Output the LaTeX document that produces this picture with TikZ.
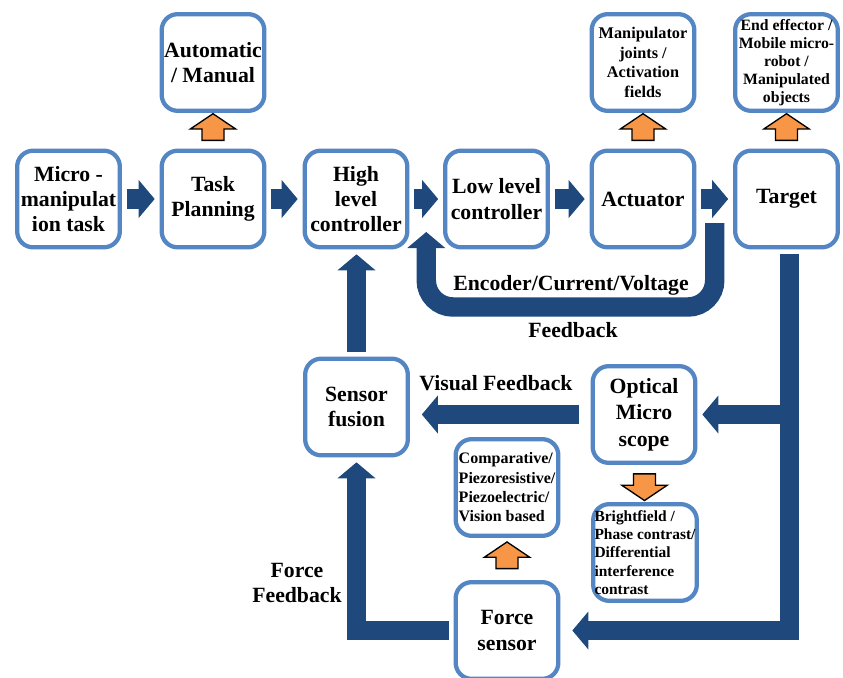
\documentclass[tikz,border=0pt]{standalone}
\usepackage{fontspec}
\setmainfont{Liberation Serif}
\usepackage{tikz}
\usetikzlibrary{arrows.meta,shapes.arrows,calc}
\definecolor{boxblue}{RGB}{84,134,196}
\definecolor{flowblue}{RGB}{31,73,125}
\definecolor{noteorange}{RGB}{247,150,70}
\tikzset{
	box/.style={draw=boxblue,fill=white,line width=3.2pt,rounded corners=12pt,minimum width=77pt,minimum height=72.5pt,inner sep=1pt,outer sep=5.25pt,align=center,font=\fontsize{16.3}{19}\selectfont\bfseries},
	smallbox/.style={box,font=\fontsize{12.2}{14.8}\selectfont\bfseries},
	flow/.style={draw=flowblue,line width=14.6pt,-{Triangle[width=28.5pt,length=12pt,line width=0pt]}},
	sidearrow/.style={single arrow,draw=black,fill=noteorange,line width=1pt,inner xsep=0pt,inner ysep=7.75pt,minimum height=20pt,single arrow head extend=8.8pt,single arrow tip angle=112,outer sep=0pt},
	lbl/.style={align=center,inner sep=0pt,font=\fontsize{16.3}{19}\selectfont\bfseries}
}
\begin{document}
\begin{tikzpicture}[x=0.75pt,y=-0.75pt]
			\useasboundingbox (0,0) rectangle (843,678);
			\node[box] (micro) at (68.5,199) {Micro -\\manipulat\\ion task};
			\node[box] (plan) at (213,199) {Task\\Planning};
			\node[box] (high) at (356,199) {High\\level\\controller};
			\node[box] (low) at (496.5,199) {Low level\\controller};
			\node[box] (act) at (643,199) {Actuator};
			\node[box] (target) at (786.5,199) {Target};
			\node[box] (auto) at (213,62.5) {Automatic\\/ Manual};
			\node[smallbox] (joints) at (643,62.5) {Manipulator\\joints /\\Activation\\fields};
			\node[smallbox,font=\fontsize{11.8}{13.6}\selectfont\bfseries] (effector) at (786.5,62.5) {End effector /\\Mobile micro-\\robot /\\Manipulated\\objects};
			\node[box] (fusion) at (356.5,407) {Sensor\\fusion};
			\node[box,font=\fontsize{16.3}{20}\selectfont\bfseries] (optical) at (644,414.5) {Optical\\Micro\\scope};
			\node[smallbox,align=left,font=\fontsize{11.6}{13.75}\selectfont\bfseries] (bright) at (645,552.5) {Brightfield /\\Phase contrast/\\Differential\\interference\\contrast};
			\node[smallbox,align=left,font=\fontsize{12}{14.5}\selectfont\bfseries] (compar) at (507,487.5) {Comparative/\\Piezoresistive/\\Piezoelectric/\\Vision based};
			\node[box] (force) at (507,630.5) {Force\\sensor};
			\draw[flow] (micro.east) -- (plan.west);
			\draw[flow] (plan.east) -- (high.west);
			\draw[flow] (high.east) -- (low.west);
			\draw[flow] (low.east) -- (act.west);
			\draw[flow] (act.east) -- (target.west);
			\node[sidearrow,rotate=90] (upauto) at ($(plan.north)!.5!(auto.south)$) {};
			\node[sidearrow,rotate=90] (upjoints) at ($(act.north)!.5!(joints.south)$) {};
			\node[sidearrow,rotate=90] (upeffector) at ($(target.north)!.5!(effector.south)$) {};
			\node[sidearrow,rotate=-90] (downbright) at ($(optical.south)!.5!(bright.north)$) {};
			\node[sidearrow,rotate=90] (upcompar) at ($(force.north)!.5!(compar.south)$) {};
			\coordinate (fbtop) at ($(act.east)!.5!(target.west)+(0,24)$);
			\coordinate (fbtip) at ($(high.east)!.5!(low.west)+(0,33)$);
			\draw[flow,rounded corners=20pt] (fbtop) -- ++(0,84) -| (fbtip);
			\coordinate (trunk) at ([xshift=2.25pt]target.south);
			\draw[flow,shorten >=5.25pt] (trunk) |- (force.east);
			\draw[flow] (trunk |- optical.east) -- (optical.east);
			\draw[flow,shorten <=5.25pt,shorten >=5.25pt] (optical.west) -- (optical.west -| fusion.east);
			\draw[flow] (fusion.north) -- (fusion.north |- high.south);
			\draw[flow] (force.west) -| (fusion.south);
			\node[lbl] (enc) at (571,285) {Encoder/Current/Voltage};
			\node[lbl] (fbk) at (573,330) {Feedback};
			\node[lbl] (vis) at (496,383) {Visual Feedback};
			\node[lbl] (ffb) at (297,583) {Force\\Feedback};
		\end{tikzpicture}
\end{document}
